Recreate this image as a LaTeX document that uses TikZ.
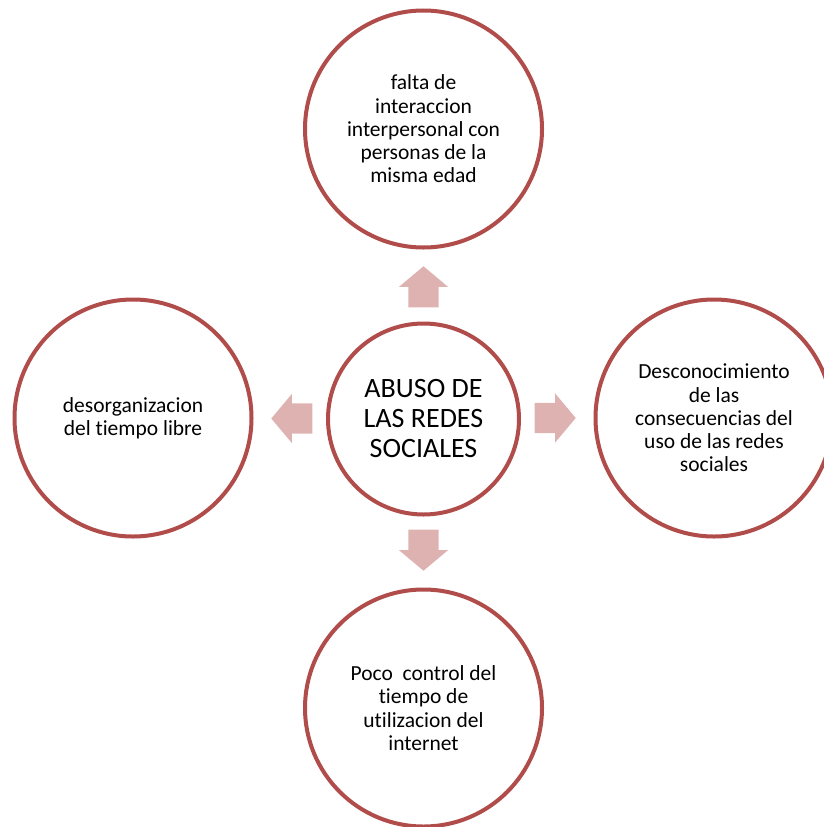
\documentclass[tikz,border=0pt]{standalone}
\usepackage{fontspec}
\setmainfont{Carlito}[Ligatures=NoCommon]
\usetikzlibrary{shapes.arrows}

\definecolor{ringred}{RGB}{176,76,74}
\definecolor{arrowpink}{RGB}{223,178,178}

\begin{document}
\begin{tikzpicture}[x=1pt,y=-1pt,
  ring/.style={circle,draw=ringred,line width=4pt,fill=white,align=center,
    inner sep=0pt,minimum size=237pt,font=\fontsize{21.5}{23.3}\selectfont},
  hub/.style={ring,minimum size=191pt,font=\fontsize{28}{30}\selectfont},
  blockarrow/.style={single arrow,fill=arrowpink,draw=none,inner xsep=0pt,
    inner ysep=15pt,minimum height=41pt,anchor=tip,
    single arrow head extend=9.5pt,single arrow tip angle=100}]
\useasboundingbox (0,0) rectangle (824,827);
% centre
\node[hub] (abuso) at (423.5,419) {ABUSO DE\\LAS REDES\\SOCIALES};
% the four around it
\node[ring] (falta) at (423.5,129) {falta de\\interaccion\\interpersonal con\\personas de la\\misma edad};
\node[ring] (desorg) at (133,418) {desorganizacion\\del tiempo libre};
\node[ring] (descon) at (714,418) {Desconocimiento\\de las\\consecuencias del\\uso de las redes\\sociales};
\node[ring] (poco) at (423.5,708) {Poco\ \ control del\\tiempo de\\utilizacion del\\internet};
% block arrows, placed by their tips
\node[blockarrow,rotate=90] (aup) at (423.5,266) {};
\node[blockarrow,rotate=180] (aleft) at (271,418.5) {};
\node[blockarrow] (aright) at (576,418) {};
\node[blockarrow,rotate=-90] (adown) at (423.5,571) {};
\end{tikzpicture}
\end{document}
